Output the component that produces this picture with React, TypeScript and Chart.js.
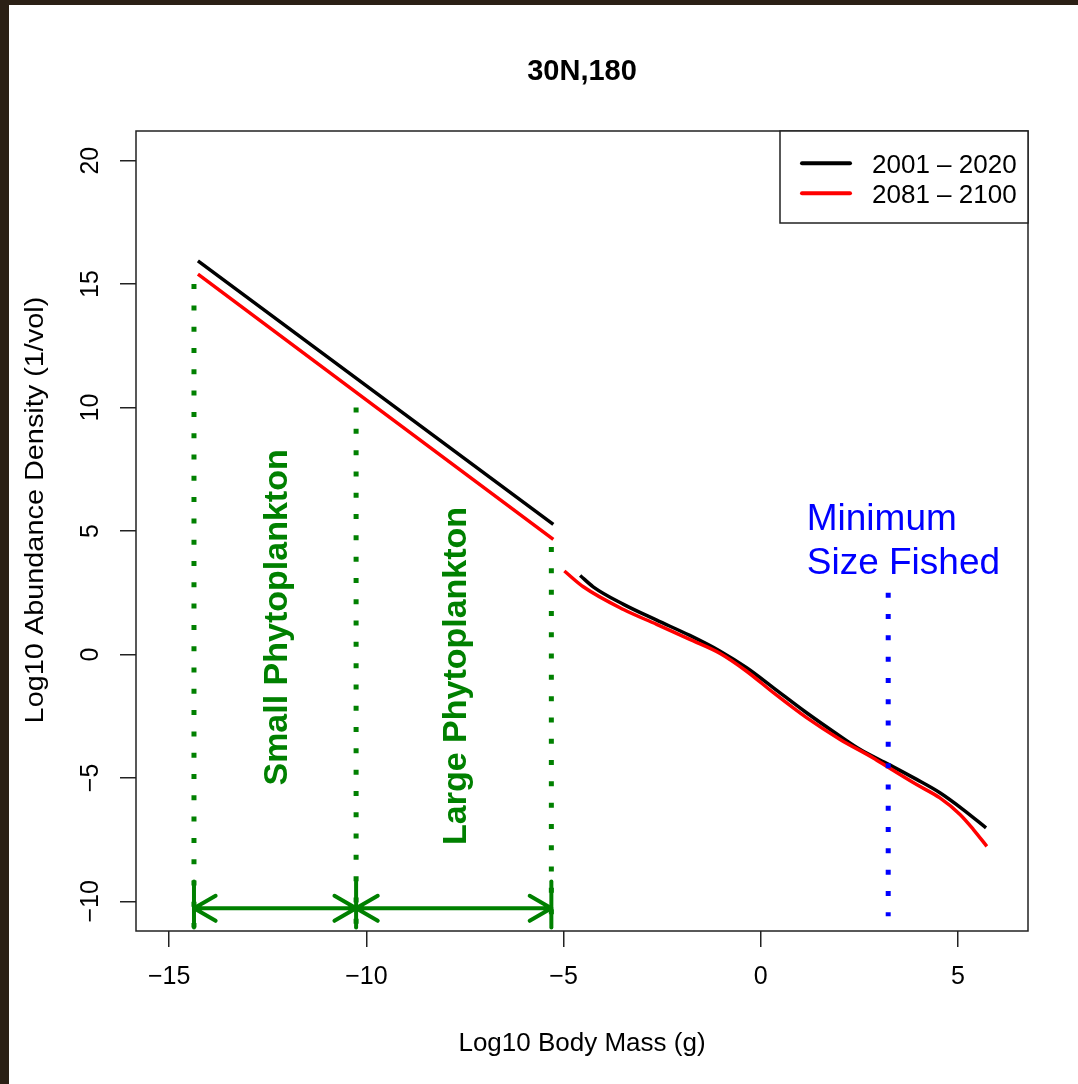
import React, { useEffect, useRef } from "react";
import { Chart, registerables } from "chart.js";

Chart.register(...registerables);

// ---------- data ----------
const TITLE = "30N,180";
const X_TITLE = "Log10 Body Mass (g)";
const Y_TITLE = "Log10 Abundance Density (1/vol)";
const X_TICKS = [-15, -10, -5, 0, 5];
const Y_TICKS = [-10, -5, 0, 5, 10, 15, 20];
const SERIES_LABELS = ["2001 \u2013 2020", "2081 \u2013 2100"];
const SERIES_COLORS = ["#000000", "#ff0000"];

// phytoplankton spectrum (straight segment)
const PHYTO_X = [-14.27, -5.26];
const PHYTO_2001 = [15.94, 5.27];
const PHYTO_2081 = [15.4, 4.66];

// consumer spectrum
const FISH_X_2001 = [-4.58, -4.25, -3.48, -2.64, -1.8, -1.03, -0.36, 0.32, 1.16, 2.01, 2.52, 3.25, 3.95, 4.54, 5.13, 5.71];
const FISH_2001 = [3.2, 2.74, 2.03, 1.39, 0.77, 0.13, -0.54, -1.35, -2.36, -3.31, -3.85, -4.46, -5.06, -5.6, -6.28, -7.02];
const FISH_X_2081 = [-4.98, -4.5, -3.48, -2.64, -1.8, -1.03, -0.36, 0.32, 1.16, 2.01, 2.85, 3.25, 3.95, 4.54, 5.05, 5.39, 5.73];
const FISH_2081 = [3.38, 2.74, 1.82, 1.22, 0.61, 0.04, -0.68, -1.55, -2.56, -3.44, -4.19, -4.59, -5.27, -5.81, -6.48, -7.09, -7.77];
const GAP_X = -5.1;

// annotations
const GROUP_BOUNDS = [-14.37, -10.26, -5.31];
const GROUP_TOPS = [15.0, 10.0, 4.35];
const GROUP_LABELS = ["Small Phytoplankton", "Large Phytoplankton"];
const GROUP_LABEL_Y = [1.5, -0.87];
const ARROW_Y = -10.28;
const BAR_Y = [-9.2, -11.06];
const FISHED_X = 3.23;
const FISHED_Y = [2.5, -10.6];
const FISHED_LABEL = ["Minimum", "Size Fished"];
const FISHED_LABEL_X = 1.165;
const FISHED_LABEL_Y = [5.06, 3.24];

const X_MIN = -15.84;
const X_MAX = 6.774;
const Y_MIN = -11.2;
const Y_MAX = 21.2;

const FONT = "'Liberation Sans', Arial, Helvetica, sans-serif";
const AXIS = "#222222";
const GREEN = "#008000";
const BLUE = "#0000ff";

const buildSeries = (px: number[], py: number[], fx: number[], fy: number[]) => [
  ...px.map((x, i) => ({ x, y: py[i] })),
  { x: GAP_X, y: null as any },
  ...fx.map((x, i) => ({ x, y: fy[i] })),
];

const rPlot = {
  id: "rPlot",
  beforeDraw(chart: any) {
    const ctx = chart.ctx;
    ctx.save();
    ctx.fillStyle = "#ffffff";
    ctx.fillRect(0, 0, chart.width, chart.height);
    ctx.fillStyle = "#2b2015";
    ctx.fillRect(0, 0, chart.width, 5);
    ctx.fillRect(0, 0, 9, chart.height);
    ctx.restore();
  },
  afterDatasetsDraw(chart: any) {
    const ctx = chart.ctx;
    const xs = chart.scales.x;
    const ys = chart.scales.y;
    const X = (v: number) => xs.getPixelForValue(v);
    const Y = (v: number) => ys.getPixelForValue(v);
    ctx.save();
    // green dotted bounds
    ctx.strokeStyle = GREEN;
    ctx.lineWidth = 5;
    ctx.lineCap = "butt";
    ctx.setLineDash([5, 16.3]);
    GROUP_BOUNDS.forEach((b, i) => {
      ctx.beginPath();
      ctx.moveTo(X(b), Y(GROUP_TOPS[i]));
      ctx.lineTo(X(b), Y(BAR_Y[1]));
      ctx.stroke();
    });
    // blue dotted
    ctx.strokeStyle = BLUE;
    ctx.beginPath();
    ctx.moveTo(X(FISHED_X), Y(FISHED_Y[0]));
    ctx.lineTo(X(FISHED_X), Y(FISHED_Y[1]));
    ctx.stroke();
    ctx.setLineDash([]);
    // arrows
    ctx.strokeStyle = GREEN;
    ctx.lineWidth = 4;
    ctx.lineCap = "round";
    ctx.lineJoin = "round";
    GROUP_BOUNDS.forEach((b) => {
      ctx.beginPath();
      ctx.moveTo(X(b), Y(BAR_Y[0]));
      ctx.lineTo(X(b), Y(BAR_Y[1]));
      ctx.stroke();
    });
    const ay = Y(ARROW_Y);
    const L = 25;
    const dx = L * Math.cos(Math.PI / 6);
    const dy = L * Math.sin(Math.PI / 6);
    for (let i = 0; i < GROUP_BOUNDS.length - 1; i++) {
      const x0 = X(GROUP_BOUNDS[i]);
      const x1 = X(GROUP_BOUNDS[i + 1]);
      ctx.beginPath();
      ctx.moveTo(x0, ay);
      ctx.lineTo(x1, ay);
      ctx.moveTo(x0 + dx, ay - dy);
      ctx.lineTo(x0, ay);
      ctx.lineTo(x0 + dx, ay + dy);
      ctx.moveTo(x1 - dx, ay - dy);
      ctx.lineTo(x1, ay);
      ctx.lineTo(x1 - dx, ay + dy);
      ctx.stroke();
    }
    // green labels (rotated)
    ctx.fillStyle = GREEN;
    ctx.font = `bold 34px ${FONT}`;
    ctx.textAlign = "center";
    ctx.textBaseline = "alphabetic";
    GROUP_LABELS.forEach((t, i) => {
      const cx = X((GROUP_BOUNDS[i] + GROUP_BOUNDS[i + 1]) / 2);
      const cy = Y(GROUP_LABEL_Y[i]);
      ctx.save();
      ctx.translate(cx, cy);
      ctx.rotate(-Math.PI / 2);
      ctx.fillText(t, 0, 34 * 0.358);
      ctx.restore();
    });
    // blue label
    ctx.fillStyle = BLUE;
    ctx.font = `37px ${FONT}`;
    ctx.textAlign = "left";
    FISHED_LABEL.forEach((t, i) => {
      ctx.fillText(t, X(FISHED_LABEL_X), Y(FISHED_LABEL_Y[i]));
    });
    ctx.restore();
  },
  afterDraw(chart: any) {
    const ctx = chart.ctx;
    const a = chart.chartArea;
    const xs = chart.scales.x;
    const ys = chart.scales.y;
    ctx.save();
    // box
    ctx.strokeStyle = AXIS;
    ctx.lineWidth = 1.5;
    ctx.strokeRect(a.left, a.top, a.right - a.left, a.bottom - a.top);
    // tick labels
    ctx.fillStyle = "#000";
    ctx.font = `25px ${FONT}`;
    ctx.textAlign = "center";
    ctx.textBaseline = "alphabetic";
    X_TICKS.forEach((v) => {
      const lbl = v < 0 ? "\u2212" + Math.abs(v) : String(v);
      ctx.fillText(lbl, xs.getPixelForValue(v), a.bottom + 53);
    });
    Y_TICKS.forEach((v) => {
      const lbl = v < 0 ? "\u2212" + Math.abs(v) : String(v);
      ctx.save();
      ctx.translate(a.left - 38, ys.getPixelForValue(v));
      ctx.rotate(-Math.PI / 2);
      ctx.fillText(lbl, 0, 0);
      ctx.restore();
    });
    // axis titles
    ctx.font = `26px ${FONT}`;
    ctx.fillText(X_TITLE, (a.left + a.right) / 2, a.bottom + 120);
    ctx.save();
    ctx.translate(a.left - 93, (a.top + a.bottom) / 2 - 21);
    ctx.rotate(-Math.PI / 2);
    ctx.scale(1.11, 1);
    ctx.fillText(Y_TITLE, 0, 0);
    ctx.restore();
    // title
    ctx.font = `bold 29px ${FONT}`;
    ctx.fillText(TITLE, (a.left + a.right) / 2, a.top - 51);
    // legend
    const lw = 248;
    const lh = 92;
    const lx = a.right - lw;
    const ly = a.top;
    ctx.fillStyle = "#fff";
    ctx.fillRect(lx, ly, lw, lh);
    ctx.strokeStyle = AXIS;
    ctx.lineWidth = 1.5;
    ctx.strokeRect(lx, ly, lw, lh);
    ctx.font = `26px ${FONT}`;
    ctx.textAlign = "left";
    SERIES_LABELS.forEach((t, i) => {
      const by = ly + 41.7 + i * 30;
      ctx.strokeStyle = SERIES_COLORS[i];
      ctx.lineWidth = 4;
      ctx.lineCap = "round";
      ctx.beginPath();
      ctx.moveTo(lx + 22, by - 9.4);
      ctx.lineTo(lx + 70, by - 9.4);
      ctx.stroke();
      ctx.fillStyle = "#000";
      ctx.fillText(t, lx + 92, by);
    });
    ctx.restore();
  },
};

export default function App() {
  const ref = useRef<HTMLCanvasElement>(null);
  useEffect(() => {
    document.body.style.margin = "0";
    const canvas = ref.current!;
    const chart = new Chart(canvas, {
      type: "line",
      data: {
        datasets: [
          {
            label: SERIES_LABELS[0],
            data: buildSeries(PHYTO_X, PHYTO_2001, FISH_X_2001, FISH_2001),
            borderColor: SERIES_COLORS[0],
            borderWidth: 3.5,
            pointRadius: 0,
            cubicInterpolationMode: "monotone",
            spanGaps: false,
            fill: false,
            order: 1,
          },
          {
            label: SERIES_LABELS[1],
            data: buildSeries(PHYTO_X, PHYTO_2081, FISH_X_2081, FISH_2081),
            borderColor: SERIES_COLORS[1],
            borderWidth: 3.5,
            pointRadius: 0,
            cubicInterpolationMode: "monotone",
            spanGaps: false,
            fill: false,
            order: 0,
          },
        ],
      } as any,
      options: {
        responsive: false,
        animation: false,
        devicePixelRatio: 1,
        events: [],
        layout: { padding: { top: 131, right: 50, left: 0, bottom: 0 } },
        plugins: {
          legend: { display: false },
          title: { display: false },
          tooltip: { enabled: false },
        },
        scales: {
          x: {
            type: "linear",
            min: X_MIN,
            max: X_MAX,
            afterBuildTicks: (s: any) => {
              s.ticks = X_TICKS.map((v) => ({ value: v }));
            },
            afterFit: (s: any) => {
              s.height = 153;
            },
            ticks: { display: false },
            grid: { drawOnChartArea: false, drawTicks: true, tickLength: 16, color: AXIS, lineWidth: 1.5 },
            border: { display: false },
          },
          y: {
            type: "linear",
            min: Y_MIN,
            max: Y_MAX,
            afterBuildTicks: (s: any) => {
              s.ticks = Y_TICKS.map((v) => ({ value: v }));
            },
            afterFit: (s: any) => {
              s.width = 136;
            },
            ticks: { display: false },
            grid: { drawOnChartArea: false, drawTicks: true, tickLength: 16, color: AXIS, lineWidth: 1.5 },
            border: { display: false },
          },
        },
      } as any,
      plugins: [rPlot],
    });
    return () => chart.destroy();
  }, []);
  return <canvas ref={ref} width={1078} height={1084} style={{ display: "block" }} />;
}
